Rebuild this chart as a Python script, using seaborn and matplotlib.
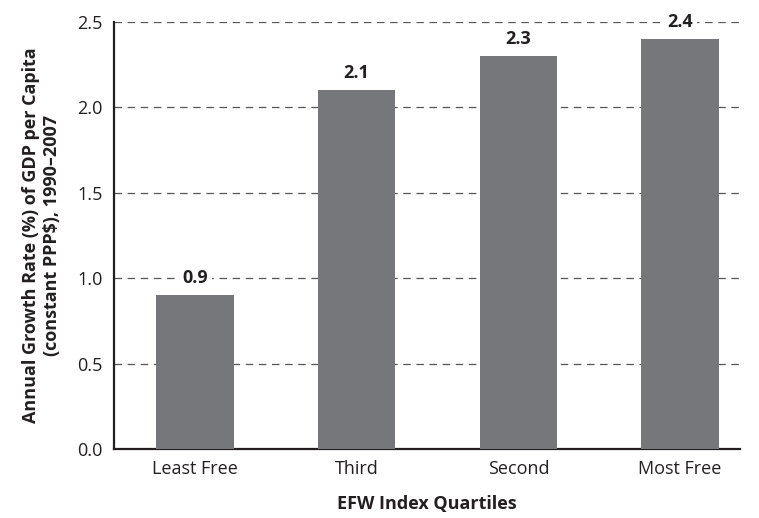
import matplotlib
matplotlib.use("Agg")
import matplotlib.pyplot as plt
import seaborn as sns
import pandas as pd

# dados
quartis = ["Least Free", "Third", "Second", "Most Free"]
crescimento = [0.9, 2.1, 2.3, 2.4]

sns.set_style("white")
plt.rcParams["font.family"] = ["Open Sans", "DejaVu Sans"]

df = pd.DataFrame({"quartil": quartis, "taxa": crescimento})

fig = plt.figure(figsize=(7.59, 5.18), dpi=100)
ax = fig.add_axes([0.150, 0.133, 0.825, 0.825])

sns.barplot(data=df, x="quartil", y="taxa", color="#76777b", saturation=1,
            width=0.48, linewidth=0, ax=ax, zorder=3)

# grade tracejada
ax.set_ylim(0, 2.5)
ax.set_yticks([0.0, 0.5, 1.0, 1.5, 2.0, 2.5])
ax.set_yticklabels([f"{v:.1f}" for v in ax.get_yticks()])
ax.yaxis.grid(True, linestyle=(0, (6, 4.5)), color="#555555", linewidth=0.9, zorder=0)
ax.set_axisbelow(True)
ax.set_xlim(-0.5, 3.37)

for s in ["top", "right"]:
    ax.spines[s].set_visible(False)
ax.spines["left"].set_color("#231f20")
ax.spines["bottom"].set_color("#231f20")
ax.spines["left"].set_linewidth(1.6)
ax.spines["bottom"].set_linewidth(1.6)
ax.tick_params(axis="both", length=0, labelsize=13, colors="#231f20", pad=8)

for c in ax.containers:
    ax.bar_label(c, fmt="%.1f", padding=6, fontsize=13, fontweight="bold",
                 color="#231f20",
                 bbox=dict(facecolor="white", edgecolor="none", pad=3))

ax.set_xlabel("EFW Index Quartiles", fontsize=13, fontweight="bold",
              color="#231f20", labelpad=12)
ax.set_ylabel("Annual Growth Rate (%) of GDP per Capita\n(constant PPP$), 1990\u20132007",
              fontsize=13, fontweight="bold", color="#231f20", labelpad=12)

fig.savefig("out.png", dpi=100)
